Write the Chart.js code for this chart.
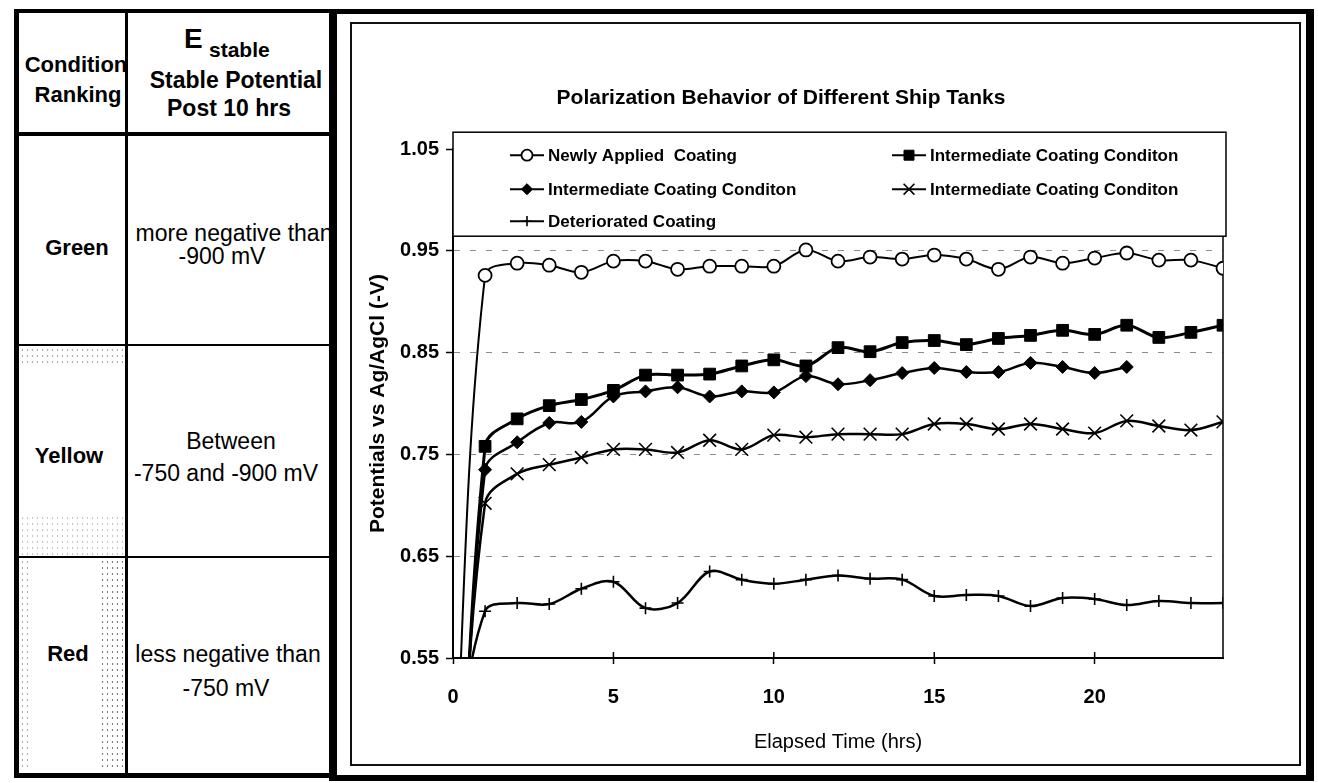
<!DOCTYPE html>
<html>
<head>
<meta charset="utf-8">
<title>Polarization Behavior of Different Ship Tanks</title>
<script src="https://cdn.jsdelivr.net/npm/chart.js@4.4.1/dist/chart.umd.min.js"></script>
<style>
  html, body { margin: 0; padding: 0; background: #fff; }
  body { width: 1318px; height: 783px; position: relative; overflow: hidden;
         font-family: "Liberation Sans", Arial, sans-serif; color: #000; }
  .line { position: absolute; background: #000; }
  .t { position: absolute; transform: translate(-50%, -50%); white-space: nowrap; line-height: 1; font-size: 23px; }
  .b { font-weight: bold; font-size: 22px; }
  .h { font-weight: bold; font-size: 23px; }
  .dots { position: absolute; opacity: 0.45;
          background-image: radial-gradient(#444 0.7px, transparent 1.1px);
          background-size: 5px 6px; }
  #frame { position: absolute; left: 329px; top: 9px; width: 985px; height: 772px; box-sizing: border-box;
           border-style: solid; border-color: #000; border-width: 5px 8px 6px 8px; background: #fff; z-index: 1; }
  #inner { position: absolute; left: 350px; top: 22px; width: 951px; height: 744px; box-sizing: border-box;
           border: 2px solid #111; z-index: 2; }
  #wrap { position: absolute; left: 339px; top: 23px; width: 961px; height: 741px; z-index: 3; }
</style>
</head>
<body>

<!-- scan speckle in the yellow and red ranking cells -->
<div class="dots" style="left:20px;top:347px;width:104px;height:18px"></div>
<div class="dots" style="left:20px;top:515px;width:104px;height:40px;opacity:0.3"></div>
<div class="dots" style="left:20px;top:559px;width:12px;height:212px"></div>
<div class="dots" style="left:100px;top:559px;width:23px;height:212px;opacity:0.7"></div>

<!-- condition table -->
<div class="line" style="left:14px;top:9px;width:316px;height:4px"></div>
<div class="line" style="left:14px;top:9px;width:5px;height:769px"></div>
<div class="line" style="left:14px;top:773px;width:316px;height:5px"></div>
<div class="line" style="left:125px;top:9px;width:3px;height:769px"></div>
<div class="line" style="left:14px;top:132px;width:316px;height:4px"></div>
<div class="line" style="left:14px;top:344px;width:316px;height:2px"></div>
<div class="line" style="left:14px;top:556px;width:316px;height:2px"></div>

<div class="t b" style="left:76px;top:65px">Condition</div>
<div class="t b" style="left:78px;top:95px">Ranking</div>
<div style="position:absolute;left:184px;top:25px;font-size:28px;line-height:1;font-weight:bold">E</div>
<div style="position:absolute;left:209px;top:39px;font-size:21px;line-height:1;font-weight:bold">stable</div>
<div class="t h" style="left:236px;top:80px">Stable Potential</div>
<div class="t h" style="left:229px;top:108px">Post 10 hrs</div>

<div class="t b" style="left:77px;top:248px">Green</div>
<div class="t" style="left:234px;top:233px">more negative than</div>
<div class="t" style="left:222px;top:256px">-900 mV</div>

<div class="t b" style="left:69px;top:456px">Yellow</div>
<div class="t" style="left:231px;top:441px">Between</div>
<div class="t" style="left:226px;top:473px">-750 and -900 mV</div>

<div class="t b" style="left:68px;top:654px">Red</div>
<div class="t" style="left:228px;top:654px">less negative than</div>
<div class="t" style="left:226px;top:688px">-750 mV</div>

<!-- chart frame -->
<div id="frame"></div>
<div id="inner"></div>
<div id="wrap"><canvas id="chart"></canvas></div>

<script>
const hours = [0, 1, 2, 3, 4, 5, 6, 7, 8, 9, 10, 11, 12, 13, 14, 15, 16, 17, 18, 19, 20, 21, 22, 23, 24];

const seriesLabels = [
  'Newly Applied  Coating',
  'Intermediate Coating Conditon',
  'Intermediate Coating Conditon',
  'Intermediate Coating Conditon',
  'Deteriorated Coating'
];

// potentials (-V vs Ag/AgCl), first reading sits below the axis
const newlyApplied = [0.381, 0.926, 0.938, 0.936, 0.929, 0.940, 0.940, 0.932, 0.935, 0.935, 0.935, 0.951,
  0.940, 0.944, 0.942, 0.946, 0.942, 0.932, 0.944, 0.938, 0.943, 0.948, 0.941, 0.941, 0.933];
const intermediateSquare = [0.164, 0.758, 0.785, 0.798, 0.804, 0.813, 0.828, 0.828, 0.829, 0.837, 0.843, 0.837,
  0.855, 0.851, 0.860, 0.862, 0.858, 0.864, 0.867, 0.872, 0.868, 0.877, 0.865, 0.870, 0.877];
const intermediateDiamond = [0.206, 0.735, 0.762, 0.781, 0.782, 0.807, 0.812, 0.816, 0.807, 0.812, 0.811, 0.827,
  0.819, 0.823, 0.830, 0.835, 0.831, 0.831, 0.840, 0.836, 0.830, 0.836, null, null, null];
const intermediateCross = [0.268, 0.702, 0.731, 0.740, 0.747, 0.755, 0.755, 0.752, 0.764, 0.755, 0.769, 0.767,
  0.770, 0.770, 0.770, 0.780, 0.780, 0.775, 0.780, 0.775, 0.771, 0.783, 0.778, 0.774, 0.782];
const deteriorated = [0.432, 0.596, 0.604, 0.603, 0.618, 0.625, 0.599, 0.604, 0.635, 0.627, 0.623, 0.627,
  0.631, 0.628, 0.627, 0.611, 0.612, 0.611, 0.601, 0.609, 0.608, 0.602, 0.606, 0.604, 0.604];

const series = [newlyApplied, intermediateSquare, intermediateDiamond, intermediateCross, deteriorated];

const looks = [
  { style: 'circle',   r: 6.5, fill: '#fff', bw: 1.8, lw: 2 },
  { style: 'rect',     r: 8.3, fill: '#000', bw: 1,   lw: 3 },
  { style: 'rectRot',  r: 6.5, fill: '#000', bw: 1,   lw: 2.5 },
  { style: 'crossRot', r: 9,   fill: '#000', bw: 1.6, lw: 2.5 },
  { style: 'cross',    r: 6,   fill: '#000', bw: 1.6, lw: 2.5 }
];

Chart.defaults.font.family = '"Liberation Sans", Arial, sans-serif';
Chart.defaults.color = '#000';

function legendFont() {
  const c = document.createElement('canvas').getContext('2d');
  c.font = 'bold 20px "Liberation Sans Narrow", monospace';
  const w1 = c.measureText('Intermediate Coating').width;
  c.font = 'bold 20px monospace';
  const w2 = c.measureText('Intermediate Coating').width;
  return w1 !== w2 ? 'bold 21px "Liberation Sans Narrow"' : 'bold 17px "Liberation Sans"';
}
const LEGEND_FONT = legendFont();

// right edge of the plot and the upper half of the x tick crosses
const plotEdge = {
  id: 'plotEdge',
  beforeDatasetsDraw(chart) {
    const { ctx, chartArea: a } = chart;
    ctx.save();
    ctx.strokeStyle = '#000';
    ctx.lineWidth = 1.5;
    ctx.beginPath();
    ctx.moveTo(a.right, a.top + 8);
    ctx.lineTo(a.right, a.bottom);
    chart.scales.x.ticks.forEach(t => {
      const px = chart.scales.x.getPixelForValue(t.value);
      ctx.moveTo(px, a.bottom - 6);
      ctx.lineTo(px, a.bottom);
    });
    ctx.stroke();
    ctx.restore();
  }
};

// boxed two-column legend sitting on the top of the plot
const legendBox = {
  id: 'legendBox',
  afterDatasetsDraw(chart) {
    const { ctx, chartArea: a } = chart;
    const top = a.top - 17, bottom = a.top + 87, left = a.left, right = a.right + 3;
    ctx.save();
    ctx.fillStyle = '#fff';
    ctx.fillRect(left, top, right - left, bottom - top);
    ctx.strokeStyle = '#000';
    ctx.lineWidth = 1.5;
    ctx.strokeRect(left, top, right - left, bottom - top);
    const rows = [6, 40, 72];
    chart.data.datasets.forEach((ds, i) => {
      const x = left + (i % 2 ? 439 : 57);
      const y = a.top + rows[Math.floor(i / 2)];
      ctx.strokeStyle = '#000';
      ctx.lineWidth = 2;
      ctx.beginPath();
      ctx.moveTo(x, y);
      ctx.lineTo(x + 34, y);
      ctx.stroke();
      ctx.fillStyle = ds.pointBackgroundColor;
      ctx.lineWidth = ds.pointBorderWidth;
      Chart.helpers.drawPoint(ctx, {
        pointStyle: ds.pointStyle, rotation: 0,
        radius: ds.pointRadius * 0.85, borderWidth: ds.pointBorderWidth
      }, x + 17, y);
      ctx.fillStyle = '#000';
      ctx.font = LEGEND_FONT;
      ctx.textBaseline = 'middle';
      ctx.textAlign = 'left';
      ctx.fillText(ds.label, x + 38, y + 1);
    });
    ctx.restore();
  }
};

new Chart(document.getElementById('chart'), {
  type: 'line',
  data: {
    datasets: series.map((vals, i) => ({
      label: seriesLabels[i],
      data: hours.map((h, j) => ({ x: h, y: vals[j] })),
      borderColor: '#000',
      borderWidth: looks[i].lw,
      pointStyle: looks[i].style,
      pointRadius: looks[i].r,
      pointBackgroundColor: looks[i].fill,
      pointBorderColor: '#000',
      pointBorderWidth: looks[i].bw,
      tension: 0.35,
      fill: false
    }))
  },
  options: {
    responsive: true,
    maintainAspectRatio: false,
    animation: false,
    layout: { padding: { left: 0, top: 0, right: 77, bottom: 0 } },
    plugins: {
      legend: { display: false },
      tooltip: { enabled: false },
      title: {
        display: true,
        text: 'Polarization Behavior of Different Ship Tanks',
        font: { size: 21, weight: 'bold' },
        color: '#000',
        padding: { top: 63, bottom: 38 }
      }
    },
    scales: {
      x: {
        type: 'linear',
        min: 0,
        max: 24,
        afterFit: s => { s.height = 106; },
        ticks: { stepSize: 5, includeBounds: false, padding: 21, font: { size: 20, weight: 'bold' } },
        grid: { drawOnChartArea: false, drawTicks: true, tickLength: 6, tickColor: '#000', tickWidth: 1.5 },
        border: { display: true, color: '#000', width: 2 },
        title: {
          display: true,
          text: 'Elapsed Time (hrs)',
          font: { size: 20 },
          padding: { top: 0, bottom: 10 }
        }
      },
      y: {
        min: 0.55,
        max: 1.05,
        afterFit: s => { s.width = 114; },
        ticks: { stepSize: 0.1, padding: 7, font: { size: 20, weight: 'bold' }, callback: v => v.toFixed(2) },
        grid: {
          color: c => (c.tick && c.tick.value > 0.56 && c.tick.value < 1.04) ? '#8c8c8c' : 'rgba(0,0,0,0)',
          lineWidth: 1,
          tickLength: 7,
          tickColor: '#000',
          tickWidth: 1.5
        },
        border: { display: true, color: '#000', width: 2, dash: [6, 10] },
        title: {
          display: true,
          text: 'Potentials vs Ag/AgCl (-V)',
          font: { size: 21, weight: 'bold' },
          padding: { top: 27, bottom: 0 }
        }
      }
    }
  },
  plugins: [plotEdge, legendBox]
});
</script>
</body>
</html>
